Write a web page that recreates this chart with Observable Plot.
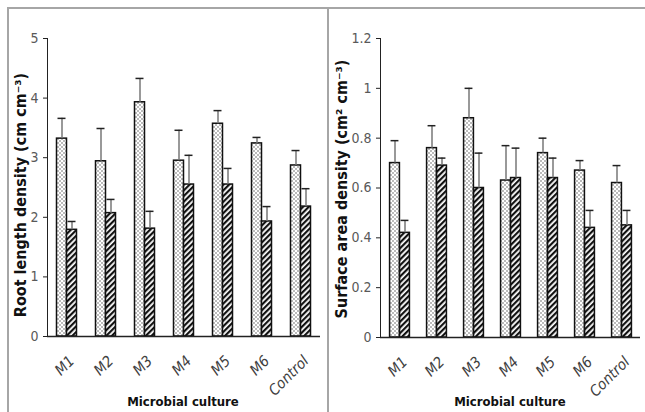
<!DOCTYPE html>
<html><head><meta charset="utf-8">
<script src="https://cdn.jsdelivr.net/npm/d3@7"></script>
<script src="https://cdn.jsdelivr.net/npm/@observablehq/plot@0.6"></script>
<style>
body{margin:0;background:#fff;}
#wrap{position:relative;width:645px;height:412px;overflow:hidden;background:#fff;font-family:"DejaVu Sans Condensed","DejaVu Sans",sans-serif;}
.fl{position:absolute;background:#a6a6a6;}
.panel{position:absolute;top:0;}
.panel svg{overflow:visible;}
.panel g[aria-label*="y-axis tick label"] text{fill:#595959;}
.panel g[aria-label*="x-axis tick label"], .panel g[aria-label*="x-axis tick label"] text{font-style:italic !important;font-size:15px !important;fill:#404040 !important;}
.ttl{position:absolute;font-weight:bold;color:#111;white-space:nowrap;line-height:1;}
.xt{font-size:13px;transform:translate(-50%,-50%);}
.yt{font-size:16px;transform:translate(-50%,-50%) rotate(-90deg);}
</style></head>
<body>
<svg width="0" height="0" style="position:absolute">
 <defs>
  <pattern id="dots" patternUnits="userSpaceOnUse" width="4" height="4">
   <rect width="4" height="4" fill="#fff"/>
   <circle cx="1" cy="1" r="0.75" fill="#555"/>
   <circle cx="3" cy="3" r="0.75" fill="#555"/>
  </pattern>
  <pattern id="hatch" patternUnits="userSpaceOnUse" width="4" height="4" patternTransform="rotate(45)">
   <rect width="4" height="4" fill="#fff"/>
   <line x1="0" y1="0" x2="0" y2="4" stroke="#111" stroke-width="4.4"/>
  </pattern>
 </defs>
</svg>
<div id="wrap">
 <div class="fl" style="left:7px;top:7px;width:638px;height:2px"></div>
 <div class="fl" style="left:7px;top:7px;width:2px;height:405px"></div>
 <div class="fl" style="left:327px;top:7px;width:2px;height:405px"></div>
 <div class="panel" id="p1" style="left:0"></div>
 <div class="panel" id="p2" style="left:325px"></div>
 <div class="ttl yt" id="yt1" style="left:21px;top:195px"></div>
 <div class="ttl yt" id="yt2" style="left:342px;top:189px"></div>
 <div class="ttl xt" id="xt1" style="left:183px;top:401px"></div>
 <div class="ttl xt" id="xt2" style="left:510px;top:401px"></div>
</div>
<script>
const categories = ["M1","M2","M3","M4","M5","M6","Control"];
const series = ["A","B"];
const xTitle = "Microbial culture";
// Root length density (cm cm-3)
const rootTitle = "Root length density (cm cm\u207B\u00B3)";
const rootA   = [3.32, 2.94, 3.93, 2.95, 3.57, 3.24, 2.87];
const rootAse = [0.34, 0.55, 0.40, 0.51, 0.22, 0.10, 0.25];
const rootB   = [1.79, 2.07, 1.81, 2.55, 2.55, 1.93, 2.18];
const rootBse = [0.14, 0.23, 0.29, 0.49, 0.27, 0.25, 0.30];
const rootTicks = [0, 1, 2, 3, 4, 5];
// Surface area density (cm2 cm-3)
const surfTitle = "Surface area density (cm\u00B2 cm\u207B\u00B3)";
const surfA   = [0.70, 0.76, 0.88, 0.63, 0.74, 0.67, 0.62];
const surfAse = [0.09, 0.09, 0.12, 0.14, 0.06, 0.04, 0.07];
const surfB   = [0.42, 0.69, 0.60, 0.64, 0.64, 0.44, 0.45];
const surfBse = [0.05, 0.03, 0.14, 0.12, 0.08, 0.07, 0.06];
const surfTicks = [0, 0.2, 0.4, 0.6, 0.8, 1, 1.2];

const fills = ["url(#dots)", "url(#hatch)"];

function panel({vals, ses, ticks, width, marginLeft, marginRight, marginBottom}) {
  const marginTop = 38;
  const band = (width - marginLeft - marginRight) / categories.length;
  const barW = 10, capW = 8;
  const marks = [];
  series.forEach((s, si) => {
    const d = categories.map((c, i) => ({cat: c, v: vals[si][i], top: vals[si][i] + ses[si][i]}));
    const dx = si === 0 ? -barW / 2 : barW / 2;
    marks.push(Plot.barY(d, {x: "cat", y: "v", dx, fill: fills[si], stroke: "#111", strokeWidth: 1.5,
      insetLeft: (band - barW) / 2, insetRight: (band - barW) / 2}));
    marks.push(Plot.ruleX(d, {x: "cat", y1: "v", y2: "top", dx, stroke: "#777", strokeWidth: 1.5}));
    marks.push(Plot.tickY(d, {x: "cat", y: "top", dx, stroke: "#222", strokeWidth: 1.5,
      insetLeft: (band - capW) / 2, insetRight: (band - capW) / 2}));
  });
  marks.push(Plot.ruleY([0], {stroke: "#222", strokeWidth: 1.5}));
  marks.push(Plot.axisX({tickSize: 0, tickRotate: -45, tickPadding: 22, dx: 5, label: null,
    fontStyle: "italic", fontSize: 15, fill: "#404040"}));
  const svg = Plot.plot({
    width, height: 412, marginTop, marginBottom, marginLeft, marginRight,
    style: {fontFamily: '"DejaVu Sans Condensed","DejaVu Sans",sans-serif', fontSize: "14px", color: "#222", background: "transparent"},
    x: {domain: categories, padding: 0, label: null},
    y: {domain: [0, ticks[ticks.length - 1]], ticks, tickFormat: d => String(d), tickSize: 4, tickPadding: 5, line: true, label: null},
    marks
  });
  d3.select(svg).selectAll('g[aria-label*="x-axis tick label"] text')
    .style("font-style", "italic").style("font-size", "15px");
  return svg;
}

document.getElementById("p1").append(panel({
  vals: [rootA, rootB], ses: [rootAse, rootBse], ticks: rootTicks,
  width: 325, marginLeft: 47, marginRight: 5, marginBottom: 76
}));
document.getElementById("p2").append(panel({
  vals: [surfA, surfB], ses: [surfAse, surfBse], ticks: surfTicks,
  width: 320, marginLeft: 55, marginRight: 5, marginBottom: 75
}));
document.getElementById("yt1").textContent = rootTitle;
document.getElementById("yt2").textContent = surfTitle;
document.getElementById("xt1").textContent = xTitle;
document.getElementById("xt2").textContent = xTitle;
</script>
</body></html>
